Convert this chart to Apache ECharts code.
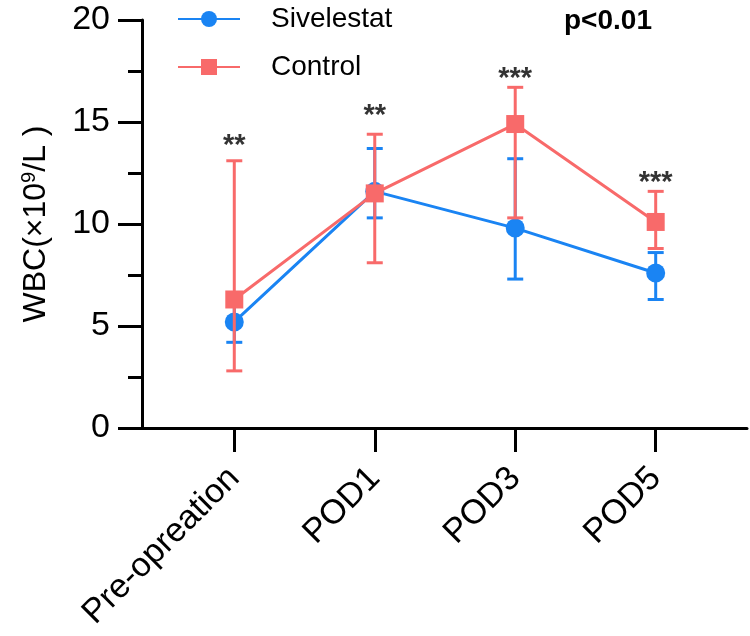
<!DOCTYPE html>
<html>
<head>
<meta charset="utf-8">
<script src="https://cdn.jsdelivr.net/npm/echarts@6/dist/echarts.min.js"></script>
<style>
  html, body { margin: 0; padding: 0; background: #fff; }
  #chart { width: 750px; height: 636px; }
</style>
</head>
<body>
<div id="chart"></div>
<script>
// time points
var categories = ['Pre-opreation', 'POD1', 'POD3', 'POD5'];
var yTicks = [0, 5, 10, 15, 20];

// Sivelestat group: mean with lower/upper error
var sivMean = [5.2, 11.6, 9.8, 7.6];
var sivLow = [4.2, 10.3, 7.3, 6.3];
var sivHigh = [6.2, 13.7, 13.2, 8.6];

// Control group
var ctlMean = [6.3, 11.5, 14.9, 10.1];
var ctlLow = [2.8, 8.1, 10.3, 8.8];
var ctlHigh = [13.1, 14.4, 16.7, 11.6];

// significance marks and the level they sit at
var stars = ['**', '**', '***', '***'];
var starLevel = [14.1, 15.6, 17.4, 12.3];

var BLUE = '#1a84f3';
var RED = '#f86a6a';
var FONT = 'Liberation Sans, Arial, sans-serif';

function pts(vals) {
  return vals.map(function (v, i) { return [i, v]; });
}
function errData(low, high) {
  return low.map(function (v, i) { return [i, v, high[i]]; });
}
function errorBar(color) {
  return function (params, api) {
    var lo = api.coord([api.value(0), api.value(1)]);
    var hi = api.coord([api.value(0), api.value(2)]);
    var half = 8;
    var style = { stroke: color, lineWidth: 3, fill: null };
    return {
      type: 'group',
      children: [
        { type: 'line', shape: { x1: lo[0], y1: lo[1], x2: hi[0], y2: hi[1] }, style: style },
        { type: 'line', shape: { x1: lo[0] - half, y1: lo[1], x2: lo[0] + half, y2: lo[1] }, style: style },
        { type: 'line', shape: { x1: hi[0] - half, y1: hi[1], x2: hi[0] + half, y2: hi[1] }, style: style }
      ]
    };
  };
}

var chart = echarts.init(document.getElementById('chart'));

chart.setOption({
  animation: false,
  backgroundColor: '#fff',
  textStyle: { fontFamily: FONT },
  title: {
    text: 'p<0.01',
    left: 559,
    top: 2,
    textStyle: { fontFamily: FONT, fontSize: 28, fontWeight: 'bold', color: '#000' }
  },
  legend: {
    orient: 'vertical',
    left: 172,
    top: 0,
    itemWidth: 62,
    itemHeight: 20,
    itemGap: 20,
    data: ['Sivelestat', 'Control'],
    textStyle: { fontFamily: FONT, fontSize: 28, color: '#000', padding: [0, 0, 0, 26] }
  },
  grid: { left: 142, right: 3, top: 20, bottom: 208 },
  xAxis: {
    type: 'value',
    min: -0.657,
    max: 3.65,
    splitLine: { show: false },
    axisLine: { onZero: false, lineStyle: { color: '#000', width: 3 } },
    axisTick: { customValues: [0, 1, 2, 3], length: 24, lineStyle: { color: '#000', width: 3 } },
    axisLabel: {
      customValues: [0, 1, 2, 3],
      rotate: 45,
      margin: 45,
      fontSize: 34,
      color: '#000',
      fontFamily: FONT,
      formatter: function (v) { return categories[Math.round(v)]; }
    }
  },
  yAxis: {
    type: 'value',
    min: yTicks[0],
    max: yTicks[yTicks.length - 1],
    interval: 5,
    splitLine: { show: false },
    axisLine: { show: true, onZero: false, lineStyle: { color: '#000', width: 3 } },
    axisTick: { show: true, length: 24, lineStyle: { color: '#000', width: 3 } },
    minorTick: { show: true, splitNumber: 2, length: 14, lineStyle: { color: '#000', width: 3 } },
    axisLabel: { margin: 32, fontSize: 34, color: '#000', fontFamily: FONT },
    name: '{a|WBC(×10}{s|9}{a|/L )}',
    nameLocation: 'middle',
    nameGap: 89,
    nameRotate: 90,
    nameTextStyle: {
      rich: {
        a: { fontSize: 32, color: '#000', fontFamily: FONT },
        s: { fontSize: 20, color: '#000', fontFamily: FONT, padding: [0, 0, 14, 0] }
      }
    }
  },
  series: [
    {
      type: 'custom',
      name: 'sivErr',
      z: 1,
      renderItem: errorBar(BLUE),
      data: errData(sivLow, sivHigh),
      encode: { x: 0, y: [1, 2] }
    },
    {
      type: 'line',
      name: 'Sivelestat',
      z: 2,
      data: pts(sivMean),
      symbol: 'circle',
      symbolSize: 19,
      itemStyle: { color: BLUE },
      lineStyle: { color: BLUE, width: 3 }
    },
    {
      type: 'custom',
      name: 'ctlErr',
      z: 3,
      renderItem: errorBar(RED),
      data: errData(ctlLow, ctlHigh),
      encode: { x: 0, y: [1, 2] }
    },
    {
      type: 'line',
      name: 'Control',
      z: 4,
      data: pts(ctlMean),
      symbol: 'rect',
      symbolSize: 18,
      itemStyle: { color: RED },
      lineStyle: { color: RED, width: 3 }
    },
    {
      type: 'scatter',
      name: 'stars',
      z: 5,
      symbolSize: 0,
      silent: true,
      data: pts(starLevel),
      label: {
        show: true,
        position: 'inside',
        offset: [0, 6],
        fontSize: 29,
        fontWeight: 'bold',
        fontFamily: FONT,
        color: '#000',
        formatter: function (p) { return stars[p.dataIndex]; }
      }
    }
  ]
});
</script>
</body>
</html>
